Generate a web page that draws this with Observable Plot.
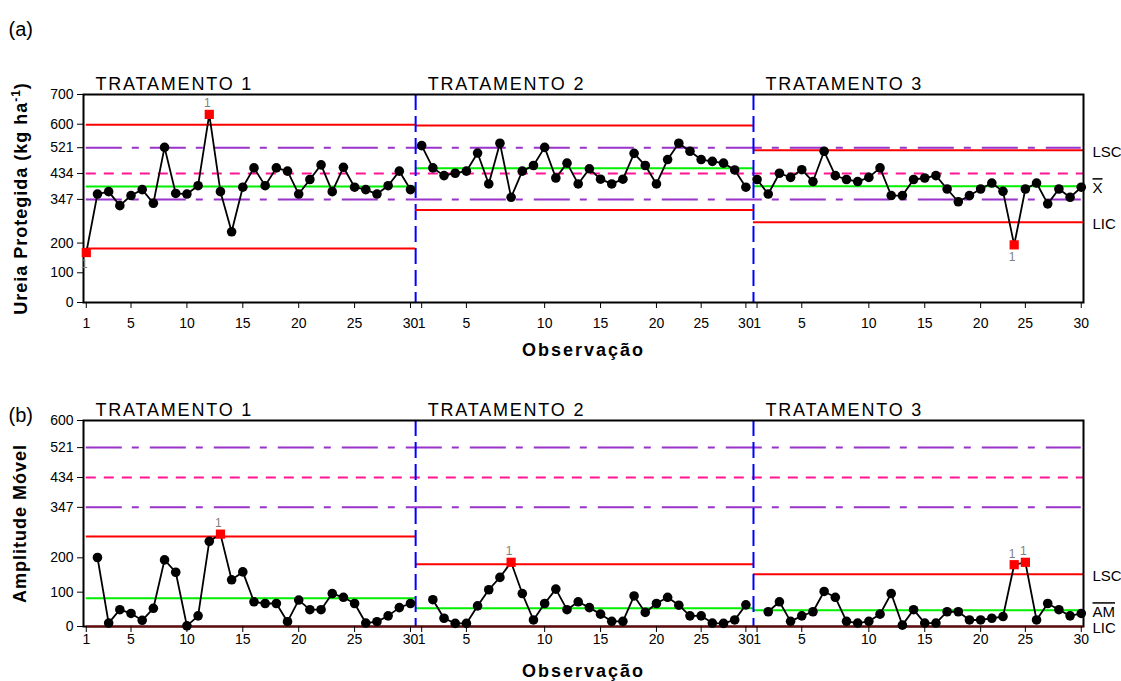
<!DOCTYPE html>
<html><head><meta charset="utf-8">
<script src="https://cdn.jsdelivr.net/npm/d3@7"></script>
<script src="https://cdn.jsdelivr.net/npm/@observablehq/plot@0.6"></script>
<style>
body{margin:0;background:#fff;}
#chart svg{display:block;}
</style></head><body><div id="chart"></div>
<script>
// ---------- data ----------
const stageNames = ["TRATAMENTO 1", "TRATAMENTO 2", "TRATAMENTO 3"];
const individuals1 = [168,365,373,326,360,380,334,522,367,365,393,633,373,238,388,453,393,453,442,365,414,463,373,455,388,380,365,393,442,380];
const individuals2 = [528,453,427,435,442,503,399,536,354,442,461,522,419,469,399,450,415,399,415,502,461,399,481,536,509,481,475,469,446,388];
const individuals3 = [414,365,435,421,447,407,509,427,414,407,421,453,360,360,414,419,427,382,339,360,382,402,374,194,382,402,332,382,354,388];
const movingRange1 = [201,10,49,38,18,53,194,158,2,31,248,269,136,159,72,67,67,14,77,49,49,96,85,67,10,14,31,55,67];
const movingRange2 = [78,24,9,9,60,107,143,187,96,19,67,109,49,72,55,36,15,15,89,41,67,85,62,31,31,10,9,19,63];
const movingRange3 = [43,72,15,31,43,102,85,15,10,15,36,96,4,49,10,10,43,43,19,19,24,29,180,187,19,67,49,31,38];
const xbarCenter = [390, 452, 391];
const xbarUpper = [598, 596, 512];
const xbarLower = [182, 311, 270];
const mrCenter = [82, 53, 47];
const mrUpper = [262, 181, 152];
const mrLower = [0, 0, 0];
const specOuter = [347, 521];
const specMid = [434];
const yTicksTop = [0, 100, 200, 347, 434, 521, 600, 700];
const yTicksBottom = [0, 100, 200, 347, 434, 521, 600];
const tickLabels = ["1","5","10","15","20","25","30","1","5","10","15","20","25","30","1","5","10","15","20","25","30"];
const tickObs = [1,5,10,15,20,25,30,31,35,42,47,52,56,60,61,65,71,76,81,85,90];
const xbarFlags = [1, 12, 84];
const mrFlags = [13, 39, 84, 85];
const stageBreaks = [30.46, 60.68];
const xDomain = [0.75, 90.2];

// ---------- derived tables ----------
const N = 30;
const indRows = [individuals1, individuals2, individuals3].flatMap((arr, s) => arr.map((v, k) => ({obs: s*N + k + 1, value: v, stage: s})));
const mrRows = [movingRange1, movingRange2, movingRange3].flatMap((arr, s) => arr.map((v, k) => ({obs: s*N + k + 2, value: v, stage: s})));
const stageStarts = [xDomain[0], ...stageBreaks];
const limitRows = (c, u, l) => stageNames.map((name, i) => ({
  name, c: c[i], u: u[i], l: l[i],
  x1: i === 0 ? 1 : stageBreaks[i-1],
  x2: i === 2 ? xDomain[1] : stageBreaks[i],
  start: stageStarts[i]
}));
const labelByObs = new Map(tickObs.map((o, i) => [o, tickLabels[i]]));
const FONT = "'Liberation Sans', Arial, sans-serif";

function panel(o) {
  const limits = limitRows(o.center, o.upper, o.lower);
  const flagged = o.rows.filter(d => o.flags.includes(d.obs));
  const normal = o.rows.filter(d => !o.flags.includes(d.obs));
  const right = o.rightLabels.map(r => ({...r, x: xDomain[1]}));
  return Plot.plot({
    width: 1121, height: o.height,
    marginLeft: 83, marginRight: 38, marginTop: o.marginTop, marginBottom: o.marginBottom,
    style: {fontFamily: FONT, fontSize: "14px", color: "black", background: "white"},
    x: {domain: xDomain},
    y: {domain: o.yDomain},
    marks: [
      Plot.ruleY(specOuter.map(y => ({x1: 1, x2: 90, y})), {y: "y", x1: "x1", x2: "x2", stroke: "#9933cc", strokeWidth: 2, strokeDasharray: "36,10,7,11"}),
      Plot.ruleY(specMid.map(y => ({x1: 1, x2: xDomain[1], y})), {y: "y", x1: "x1", x2: "x2", stroke: "#ff1493", strokeWidth: 2, strokeDasharray: "10,8"}),
      Plot.ruleY(limits, {y: "u", x1: "x1", x2: "x2", stroke: "#ff0000", strokeWidth: 2}),
      Plot.ruleY(limits, {y: "c", x1: "x1", x2: "x2", stroke: "#00ee00", strokeWidth: 2}),
      Plot.ruleX(stageBreaks, {stroke: "#0000ff", strokeWidth: 2, strokeDasharray: "16,6"}),
      Plot.frame({stroke: "black", strokeWidth: 2}),
      Plot.ruleY(limits, {y: "l", x1: "x1", x2: "x2", stroke: o.lowerColor, strokeWidth: 2}),
      Plot.line(o.rows, {x: "obs", y: "value", z: "stage", stroke: "black", strokeWidth: 1.8}),
      Plot.dot(normal, {x: "obs", y: "value", r: 4.8, fill: "black"}),
      Plot.dot(flagged, {x: "obs", y: "value", symbol: "square", r: 5.2, fill: "#ff0000"}),
      Plot.text(flagged.filter(d => o.labelAbove(d)), {x: "obs", y: "value", text: () => "1", fill: "#808080", fontSize: 12, dy: -11, dx: -2}),
      Plot.text(flagged.filter(d => !o.labelAbove(d)), {x: "obs", y: "value", text: () => "1", fill: "#808080", fontSize: 12, dy: 12, dx: -2}),
      Plot.axisY({ticks: o.yTicks, tickSize: 6, tickPadding: 4, fontSize: 14, label: null}),
      Plot.axisX({ticks: tickObs, tickFormat: d => labelByObs.get(d), tickSize: 6, tickPadding: o.tickPadding, fontSize: 14, label: null}),
      Plot.text(limits, {x: "start", text: "name", frameAnchor: "top", dy: -5, dx: 12, textAnchor: "start", lineAnchor: "bottom", fontSize: 18}),
      Plot.text([o.yLabel], {frameAnchor: "left", rotate: -90, dx: o.yLabelDx, textAnchor: "middle", lineAnchor: "bottom", fontSize: 18, fontWeight: "bold"}),
      Plot.text(["Observação"], {frameAnchor: "bottom", dy: o.xLabelDy, textAnchor: "middle", lineAnchor: "bottom", fontSize: 18, fontWeight: "bold"}),
      Plot.text([o.tag], {frameAnchor: "top-left", dx: -75, dy: o.tagDy, textAnchor: "start", lineAnchor: "bottom", fontSize: 20}),
      Plot.text(right, {x: "x", y: "y", text: "t", dx: 9, dy: 2, textAnchor: "start", fontSize: 15})
    ]
  });
}

const chartA = panel({
  rows: indRows, flags: xbarFlags, center: xbarCenter, upper: xbarUpper, lower: xbarLower,
  yDomain: [0, 700], yTicks: yTicksTop, height: 370, marginTop: 94, marginBottom: 68, tickPadding: 10,
  yLabel: "Ureia Protegida (kg ha-1)", yLabelDx: -57, xLabelDy: 53, tag: "(a)", tagDy: -59,
  lowerColor: "#ff0000",
  labelAbove: d => d.value > 500,
  rightLabels: [{y: xbarUpper[2], t: "LSC"}, {y: xbarCenter[2], t: "X"}, {y: xbarLower[2], t: "LIC"}]
});
const chartB = panel({
  rows: mrRows, flags: mrFlags, center: mrCenter, upper: mrUpper, lower: mrLower,
  yDomain: [0, 600], yTicks: yTicksBottom, height: 311, marginTop: 50, marginBottom: 55, tickPadding: 2,
  yLabel: "Amplitude Móvel", yLabelDx: -58, xLabelDy: 50, tag: "(b)", tagDy: 1,
  lowerColor: "#6a0a0a",
  labelAbove: d => true,
  rightLabels: [{y: mrUpper[2], t: "LSC"}, {y: mrCenter[2], t: "AM"}, {y: mrLower[2], t: "LIC"}]
});

for (const svg of [chartA, chartB]) {
  svg.querySelectorAll("text").forEach(t => {
    const s = t.textContent;
    if (s.startsWith("TRATAMENTO")) t.setAttribute("letter-spacing", "1.8");
    if (s === "Observação") t.setAttribute("letter-spacing", "2");
    if (s === "Amplitude Móvel") t.setAttribute("letter-spacing", "1");
    if (s === "X" || s === "AM") t.style.textDecoration = "overline";
    if (s === "Ureia Protegida (kg ha-1)") {
      t.setAttribute("letter-spacing", "1");
      t.textContent = "";
      const ns = "http://www.w3.org/2000/svg";
      const a = document.createElementNS(ns, "tspan"); a.textContent = "Ureia Protegida (kg ha";
      const b = document.createElementNS(ns, "tspan"); b.textContent = "-1"; b.setAttribute("baseline-shift", "super"); b.setAttribute("font-size", "12");
      const c = document.createElementNS(ns, "tspan"); c.textContent = ")";
      t.append(a, b, c);
    }
  });
  document.getElementById("chart").appendChild(svg);
}
</script></body></html>
